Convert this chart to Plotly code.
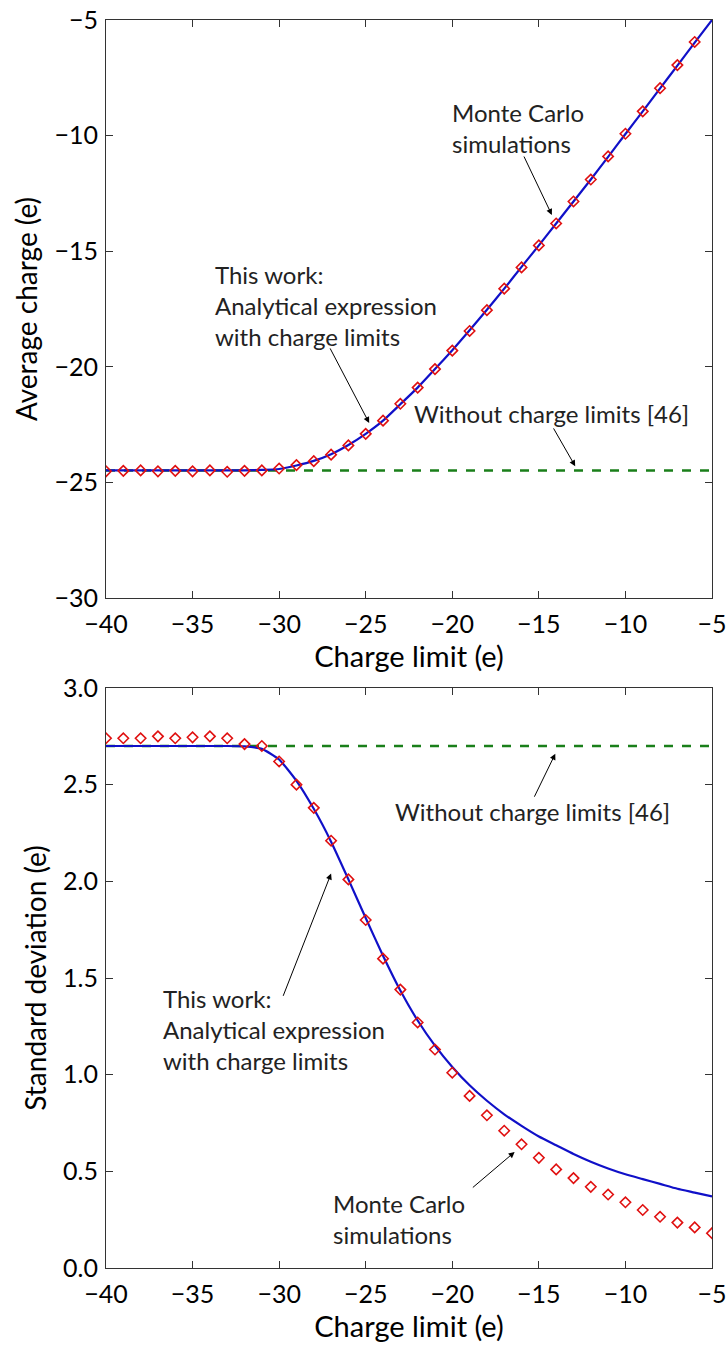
import plotly.graph_objects as go

# ---------------- data ----------------
charge_limit_line = [-40, -39, -38, -37, -36, -35, -34, -33, -32, -31, -30, -29, -28, -27, -26, -25,
                     -24, -23, -22, -21, -20, -19, -18, -17, -16, -15, -14, -13, -12, -11, -10, -9,
                     -8, -7, -6, -5]
avg_line = [-24.48, -24.48, -24.48, -24.48, -24.48, -24.48, -24.48, -24.48, -24.48, -24.46, -24.42,
            -24.27, -24.07, -23.78, -23.38, -22.9, -22.33, -21.62, -20.9, -20.1, -19.28, -18.42,
            -17.53, -16.62, -15.68, -14.75, -13.8, -12.85, -11.9, -10.92, -9.93, -8.95, -7.96,
            -6.97, -5.98, -5.0]
mc_x_top = [-40, -39, -38, -37, -36, -35, -34, -33, -32, -31, -30, -29, -28, -27, -26, -25, -24,
            -23, -22, -21, -20, -19, -18, -17, -16, -15, -14, -13, -12, -11, -10, -9, -8, -7, -6]
mc_avg = [-24.52, -24.5, -24.48, -24.52, -24.5, -24.52, -24.48, -24.54, -24.5, -24.48, -24.4,
          -24.25, -24.08, -23.8, -23.4, -22.9, -22.33, -21.6, -20.9, -20.1, -19.3, -18.45,
          -17.55, -16.62, -15.7, -14.75, -13.8, -12.85, -11.9, -10.9, -9.92, -8.95, -7.95,
          -6.95, -5.95]
no_limit_avg = -24.48

std_line = [2.70, 2.70, 2.70, 2.70, 2.70, 2.70, 2.70, 2.70, 2.698, 2.685, 2.63, 2.52, 2.375, 2.205,
            2.01, 1.81, 1.615, 1.435, 1.28, 1.15, 1.04, 0.945, 0.865, 0.795, 0.735, 0.68, 0.635,
            0.59, 0.55, 0.515, 0.485, 0.46, 0.435, 0.41, 0.39, 0.37]
mc_x_bot = [-40, -39, -38, -37, -36, -35, -34, -33, -32, -31, -30, -29, -28, -27, -26, -25, -24,
            -23, -22, -21, -20, -19, -18, -17, -16, -15, -14, -13, -12, -11, -10, -9, -8, -7,
            -6, -5]
mc_std = [2.74, 2.74, 2.74, 2.75, 2.74, 2.745, 2.75, 2.74, 2.71, 2.70, 2.62, 2.50, 2.38, 2.21,
          2.01, 1.80, 1.60, 1.44, 1.27, 1.13, 1.01, 0.89, 0.79, 0.71, 0.64, 0.57, 0.51, 0.465,
          0.42, 0.38, 0.34, 0.30, 0.265, 0.235, 0.21, 0.18]
no_limit_std = 2.70

x_ticks = [-40, -35, -30, -25, -20, -15, -10, -5]
top_y_ticks = [-30, -25, -20, -15, -10, -5]
bot_y_ticks = [0.0, 0.5, 1.0, 1.5, 2.0, 2.5, 3.0]

# ---------------- style ----------------
FONT = "Lato, 'Open Sans', sans-serif"
BLUE = "#1010c8"
GREEN = "#1a7f1a"
RED = "#e01010"
AX = "#333333"

fig = go.Figure()

def add_panel(xa, ya, line_y, mc_x, mc_y, flat_y):
    fig.add_trace(go.Scatter(x=[charge_limit_line[0], charge_limit_line[-1]], y=[flat_y, flat_y],
                             mode="lines", line=dict(color=GREEN, width=2.5, dash="dash"),
                             xaxis=xa, yaxis=ya, showlegend=False, hoverinfo="skip"))
    fig.add_trace(go.Scatter(x=charge_limit_line, y=line_y, mode="lines",
                             line=dict(color=BLUE, width=2.2, shape="spline", smoothing=0.5),
                             xaxis=xa, yaxis=ya, showlegend=False, cliponaxis=True))
    fig.add_trace(go.Scatter(x=mc_x, y=mc_y, mode="markers",
                             marker=dict(symbol="diamond-open", color=RED, size=8,
                                         line=dict(color=RED, width=1.6)),
                             xaxis=xa, yaxis=ya, showlegend=False))

add_panel("x", "y", avg_line, mc_x_top, mc_avg, no_limit_avg)
add_panel("x2", "y2", std_line, mc_x_bot, mc_std, no_limit_std)

axis_common = dict(showline=True, linecolor=AX, linewidth=1.2, mirror="ticks", ticks="inside",
                   ticklen=7, tickcolor=AX, showgrid=False, zeroline=False,
                   ticklabeloverflow="allow",
                   tickfont=dict(family=FONT, size=25, color="black"), automargin=False)

XT = dict(family=FONT, size=29, color="black")
YT = dict(family=FONT, size=28, color="black")

x0, x1 = 106 / 727, 712 / 727
fig.update_layout(
    width=727, height=1345, margin=dict(l=0, r=0, t=0, b=0),
    paper_bgcolor="white", plot_bgcolor="white",
    xaxis=dict(domain=[x0, x1], range=[-40, -5], tickvals=x_ticks, anchor="y",
               ticklabelstandoff=4,
               title=dict(text="Charge limit (e)", font=XT, standoff=4), **axis_common),
    yaxis=dict(domain=[1 - 598 / 1345, 1 - 20 / 1345], range=[-30, -5], tickvals=top_y_ticks,
               anchor="x", ticklabelstandoff=2,
               title=dict(text="Average charge (e)", font=YT, standoff=8), **axis_common),
    xaxis2=dict(domain=[x0, x1], range=[-40, -5], tickvals=x_ticks, anchor="y2",
                ticklabelstandoff=4,
                title=dict(text="Charge limit (e)", font=XT, standoff=4), **axis_common),
    yaxis2=dict(domain=[1 - 1268 / 1345, 1 - 688 / 1345], range=[0, 3], tickvals=bot_y_ticks,
                tickformat=".1f", anchor="x2", ticklabelstandoff=2,
                title=dict(text="Standard deviation (e)", font=YT, standoff=8), **axis_common),
)

ann_font = dict(family=FONT, size=24, color="#222222")

def text(xr, yr, x, y, t, xanchor="left"):
    fig.add_annotation(xref=xr, yref=yr, x=x, y=y, text=t, showarrow=False, align="left",
                       xanchor=xanchor, yanchor="middle", font=ann_font)

def arrow(xr, yr, tip, tail):
    fig.add_annotation(xref=xr, yref=yr, axref=xr, ayref=yr, x=tip[0], y=tip[1], ax=tail[0],
                       ay=tail[1], text="", showarrow=True, arrowhead=2, arrowsize=1.2,
                       arrowwidth=1, arrowcolor="black")

# top panel
text("x", "y", -16.2, -9.65, "Monte Carlo<br>simulations", xanchor="center")
arrow("x", "y", (-14.25, -13.43), (-15.9, -10.84))
text("x", "y", -33.8, -17.33, "This work:<br>Analytical expression<br>with charge limits")
arrow("x", "y", (-24.8, -22.43), (-27.1, -19.14))
text("x", "y", -22.3, -22.04, "Without charge limits [46]")
arrow("x", "y", (-12.9, -24.3), (-14.2, -22.6))

# bottom panel
text("x2", "y2", -23.4, 2.36, "Without charge limits [46]")
arrow("x2", "y2", (-14.05, 2.66), (-15.3, 2.43))
text("x2", "y2", -36.8, 1.236, "This work:<br>Analytical expression<br>with charge limits")
arrow("x2", "y2", (-27.0, 2.04), (-29.8, 1.40))
text("x2", "y2", -27.0, 0.254, "Monte Carlo<br>simulations")
arrow("x2", "y2", (-16.4, 0.60), (-18.9, 0.41))

fig.write_html("out.html")
